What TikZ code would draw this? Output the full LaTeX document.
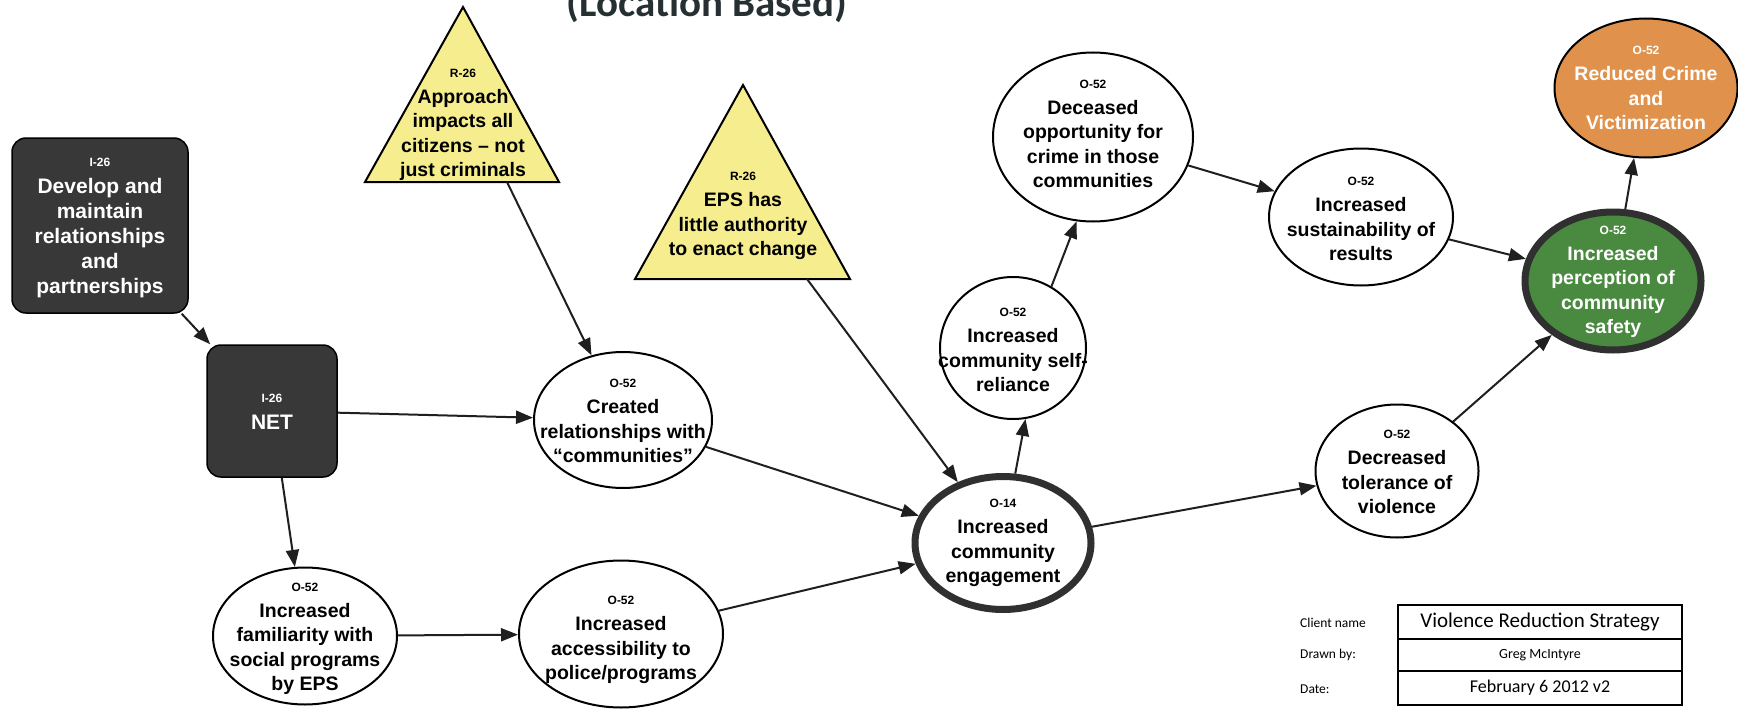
\documentclass[tikz,border=0pt]{standalone}
\usepackage{fontspec}
\setmainfont{Liberation Sans}
\newfontfamily\calib{Carlito}
\usetikzlibrary{arrows.meta,shapes.geometric}
\definecolor{darkbox}{HTML}{383838}
\definecolor{triy}{HTML}{F6EE8E}
\definecolor{grn}{HTML}{4A8A40}
\definecolor{org}{HTML}{E0924C}
\definecolor{thickc}{HTML}{303030}
\definecolor{titlec}{HTML}{263033}
\newcommand\lab[1]{{\fontsize{12}{14}\selectfont #1}\\[1.5pt]}
\begin{document}
\begin{tikzpicture}[x=1pt,y=-1pt,
  txt/.style={align=center, font=\bfseries\fontsize{19.5}{24.5}\selectfont, inner sep=0pt},
  wtxt/.style={txt, text=white, font=\bfseries\fontsize{21}{25}\selectfont},
  dbox/.style={draw=black, line width=1.5pt, fill=darkbox, rounded corners=14pt, inner sep=0pt},
  oval/.style={ellipse, draw=black, line width=2pt, fill=white, inner sep=0pt},
  thickoval/.style={ellipse, draw=thickc, line width=7pt, fill=white, inner sep=0pt},
  arr/.style={-{Triangle[length=17pt,width=13pt]}, line width=2pt, draw=black!88, fill=black!80},
  trishape/.style={draw=black, line width=2pt, fill=triy, line join=miter},
  cell/.style={draw=black, line width=2pt, minimum width=284pt, inner sep=0pt},
  side/.style={anchor=west, font=\calib\fontsize{13.5}{16}\selectfont, inner sep=0pt},
]
\useasboundingbox (0,0) rectangle (1738,717);
\fill[white] (0,0) rectangle (1738,717);

% title (cut at the top)
\node[anchor=base, font=\calib\bfseries\fontsize{41}{48}\selectfont, text=titlec, inner sep=0pt] (title) at (707,17) {(Location Based)};

% dark boxes
\node[dbox, minimum width=176pt, minimum height=175pt] (dev) at (100,225.5) {};
\node[wtxt] (devT) at (100,228) {\lab{I-26}Develop and\\maintain\\relationships\\and\\partnerships};
\node[dbox, minimum width=130pt, minimum height=132pt] (net) at (272,411) {};
\node[wtxt] (netT) at (272,412) {\lab{I-26}NET};

% triangles
\draw[trishape] (463,7) -- (559,182) -- (365,182) -- cycle;
\node[txt] (t1T) at (463,125) {\lab{R-26}Approach\\impacts all\\citizens \textendash{} not\\just criminals};
\coordinate (t1out) at (507,182);
\draw[trishape] (743,85) -- (850,279) -- (635,279) -- cycle;
\node[txt] (t2T) at (743,216) {\lab{R-26}EPS has\\little authority\\to enact change};
\coordinate (t2out) at (807,279);

% ellipses
\node[oval, minimum width=178pt, minimum height=136pt] (created) at (623,420) {};
\node[oval, minimum width=184pt, minimum height=137pt] (fam) at (305,636) {};
\node[oval, minimum width=204pt, minimum height=147pt] (acc) at (621,634) {};
\node[thickoval, minimum width=176pt, minimum height=133pt] (engage) at (1003,543) {};
\node[oval, minimum width=146pt, minimum height=142pt] (self) at (1013,348) {};
\node[oval, minimum width=200pt, minimum height=169pt] (dec) at (1093,137) {};
\node[oval, minimum width=184pt, minimum height=137pt] (sus) at (1361,217) {};
\node[oval, minimum width=163pt, minimum height=133pt] (tol) at (1397,471) {};
\node[thickoval, fill=grn, minimum width=176pt, minimum height=138pt] (perc) at (1613,281) {};
\node[oval, fill=org, minimum width=183pt, minimum height=139pt] (red) at (1646,88) {};

% connectors
\draw[arr] (dev) -- (net);
\draw[arr] (net) -- (created);
\draw[arr] (net) -- (fam);
\draw[arr] (t1out) -- (created);
\draw[arr] (t2out) -- (engage);
\draw[arr] (created) -- (engage);
\draw[arr] (fam) -- (acc);
\draw[arr] (acc) -- (engage);
\draw[arr] (engage.80) -- (self.-80);
\draw[arr] (self.58) -- (dec.-101);
\draw[arr] (dec) -- (sus);
\draw[arr] (sus) -- (perc);
\draw[arr] (engage) -- (tol);
\draw[arr] (tol) -- (perc);
\draw[arr] (perc) -- (red);

% ellipse texts
\node[txt] (createdT) at (623,421) {\lab{O-52}Created\\relationships with\\“communities”};
\node[txt] (famT) at (305,639) {\lab{O-52}Increased\\familiarity with\\social programs\\by EPS};
\node[txt] (accT) at (621,640) {\lab{O-52}Increased\\accessibility to\\police/programs};
\node[txt] (engT) at (1003,543) {\lab{O-14}Increased\\community\\engagement};
\node[txt] (selfT) at (1013,350) {\lab{O-52}Increased\\community self-\\reliance};
\node[txt] (decT) at (1093,134) {\lab{O-52}Deceased\\opportunity for\\crime in those\\communities};
\node[txt] (susT) at (1361,219) {\lab{O-52}Increased\\sustainability of\\results};
\node[txt] (tolT) at (1397,472) {\lab{O-52}Decreased\\tolerance of\\violence};
\node[txt, text=white] (percT) at (1613,282) {\lab{O-52}Increased\\perception of\\community\\safety};
\node[txt, text=white] (redT) at (1646,88) {\lab{O-52}Reduced Crime\\and\\Victimization};

% title block
\node[cell, minimum height=34pt, font=\calib\fontsize{21}{24}\selectfont] (client) at (1540,622) {Violence Reduction Strategy};
\node[cell, minimum height=32pt, font=\calib\fontsize{14}{16}\selectfont] (drawn) at (1540,655) {Greg McIntyre};
\node[cell, minimum height=34pt, font=\calib\fontsize{18}{20}\selectfont] (date) at (1540,688) {February 6 2012 v2};
\node[side] (lc) at (1300,623) {Client name};
\node[side] (ld) at (1300,655) {Drawn by:};
\node[side] (ldt) at (1300,689) {Date:};
\end{tikzpicture}
\end{document}
